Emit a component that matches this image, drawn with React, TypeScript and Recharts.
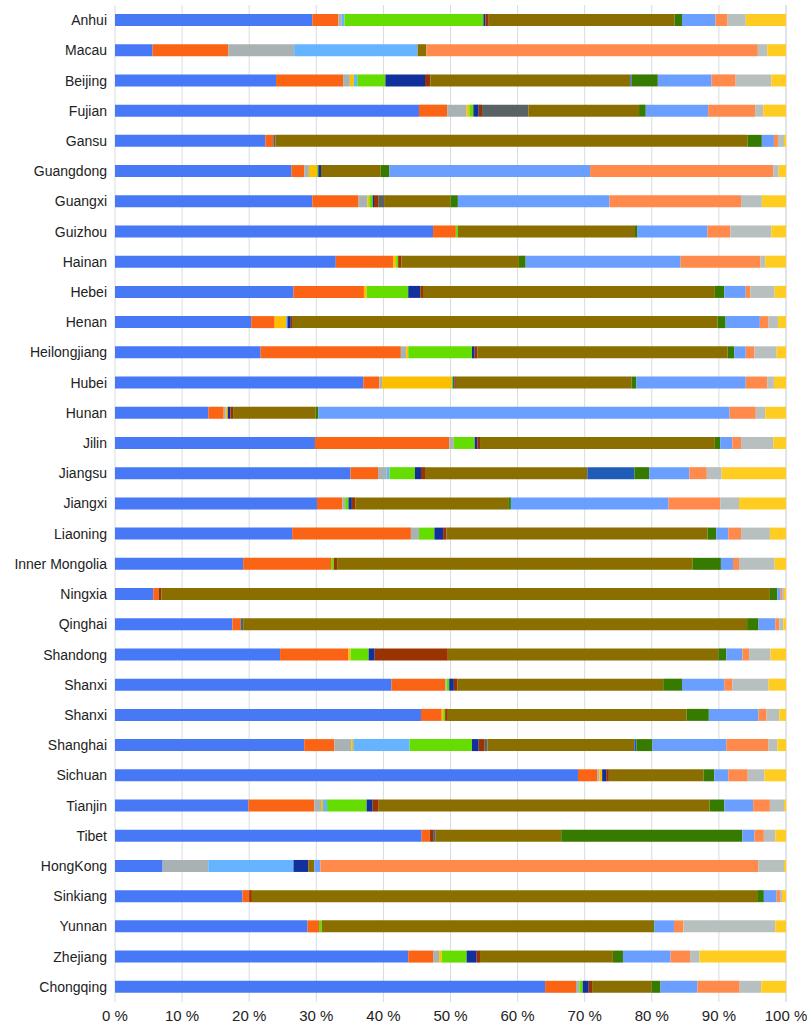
import { Bar, BarChart, CartesianGrid, XAxis, YAxis } from 'recharts';

const provinces = [
  'Anhui', 'Macau', 'Beijing', 'Fujian', 'Gansu', 'Guangdong', 'Guangxi', 'Guizhou', 'Hainan', 'Hebei',
  'Henan', 'Heilongjiang', 'Hubei', 'Hunan', 'Jilin', 'Jiangsu', 'Jiangxi', 'Liaoning', 'Inner Mongolia', 'Ningxia',
  'Qinghai', 'Shandong', 'Shanxi', 'Shanxi', 'Shanghai', 'Sichuan', 'Tianjin', 'Tibet', 'HongKong', 'Sinkiang',
  'Yunnan', 'Zhejiang', 'Chongqing',
];

// share (%) of each segment, one value per province, in the order above
const blue = [29.4, 5.6, 24.0, 45.3, 22.4, 26.3, 29.4, 47.4, 32.9, 26.6, 20.3, 21.7, 37.0, 13.9, 29.8, 35.1, 30.1, 26.4, 19.1, 5.7, 17.5, 24.6, 41.2, 45.6, 28.2, 69.0, 19.9, 45.7, 7.1, 19.0, 28.7, 43.7, 64.1];
const orange = [3.9, 11.3, 10.0, 4.2, 1.2, 1.9, 6.9, 3.4, 8.6, 10.5, 3.5, 20.9, 2.4, 2.3, 20.0, 4.1, 3.8, 17.7, 13.1, 0.8, 1.2, 10.2, 8.0, 3.1, 4.5, 2.9, 9.8, 1.2, 0, 1.0, 1.7, 3.7, 4.6];
const gray = [0.5, 9.8, 1.0, 2.9, 0, 0.7, 1.3, 0, 0, 0, 0, 0.8, 0.4, 0.3, 0.7, 1.3, 0.4, 1.2, 0, 0, 0, 0, 0.2, 0, 2.5, 0.3, 1.0, 0, 6.8, 0, 0, 0.9, 0.5];
const amber = [0, 0, 0.6, 0.4, 0, 1.2, 0.3, 0, 0.4, 0.4, 1.7, 0.3, 10.4, 0.3, 0, 0, 0, 0, 0, 0, 0, 0.3, 0, 0.2, 0.3, 0.4, 0.3, 0, 0, 0, 0, 0.4, 0];
const sky = [0.4, 18.4, 0.5, 0, 0, 0, 0, 0, 0, 0, 0.2, 0, 0, 0, 0, 0.4, 0, 0, 0, 0, 0, 0, 0, 0, 8.4, 0, 0.6, 0, 12.7, 0, 0, 0, 0];
const green = [20.7, 0, 4.2, 0.6, 0, 0.2, 0.5, 0.3, 0.3, 6.2, 0, 9.5, 0.2, 0, 3.1, 3.8, 0.5, 2.3, 0.4, 0, 0, 2.7, 0.4, 0.3, 9.3, 0, 5.9, 0, 0, 0, 0.4, 3.7, 0.5];
const navy = [0.3, 0, 5.9, 0.8, 0, 0.4, 0.2, 0, 0, 1.8, 0.5, 0.4, 0.2, 0.4, 0.4, 0.9, 0.5, 1.3, 0, 0, 0, 0.9, 0.7, 0, 1.0, 0.6, 0.9, 0, 2.2, 0, 0, 1.5, 0.9];
const darkRed = [0.5, 0, 0.8, 0.5, 0, 0, 0.7, 0, 0.5, 0.4, 0.3, 0.4, 0.2, 0.4, 0.4, 0.6, 0.5, 0.5, 0.5, 0.4, 0, 10.9, 0.5, 0.4, 0.9, 0.4, 0.9, 0.5, 0, 0.4, 0, 0.5, 0.5];
const slate = [0, 0, 0, 6.9, 0.3, 0, 0.8, 0, 0, 0, 0, 0, 0, 0, 0, 0, 0, 0, 0, 0, 0.4, 0, 0, 0, 0.4, 0, 0, 0.4, 0, 0, 0, 0, 0];
const olive = [27.7, 1.3, 29.8, 16.5, 70.4, 8.9, 9.9, 26.4, 17.5, 43.5, 63.3, 37.3, 26.2, 12.3, 35.0, 24.2, 22.8, 38.9, 53.0, 90.7, 75.1, 40.3, 30.7, 35.6, 21.9, 14.1, 49.3, 18.7, 0.9, 75.3, 49.4, 19.8, 8.9];
const darkBlue = [0, 0, 0.2, 0, 0, 0, 0, 0, 0, 0, 0, 0, 0, 0, 0, 7.0, 0, 0, 0, 0, 0, 0, 0, 0, 0.3, 0, 0, 0, 0, 0, 0, 0, 0];
const darkGreen = [1.1, 0, 3.9, 1.0, 2.1, 1.3, 1.1, 0.3, 1.0, 1.4, 1.2, 1.0, 0.7, 0.4, 0.8, 2.2, 0.4, 1.3, 4.2, 1.1, 1.7, 1.2, 2.8, 3.3, 2.4, 1.6, 2.2, 27.0, 0, 1.0, 0.2, 1.5, 1.3];
const cornflower = [5.0, 0, 8.0, 9.3, 1.8, 29.9, 22.6, 10.5, 23.1, 3.2, 5.1, 1.7, 16.3, 61.3, 1.8, 6.0, 23.5, 1.8, 1.8, 0.5, 2.5, 2.4, 6.3, 7.4, 11.0, 2.1, 4.3, 1.8, 0.9, 1.9, 2.9, 7.1, 5.5];
const salmon = [1.8, 49.4, 3.6, 7.0, 0.6, 27.3, 19.6, 3.4, 11.9, 0.7, 1.3, 1.3, 3.2, 3.9, 1.3, 2.6, 7.7, 1.9, 0.9, 0.3, 0.6, 1.0, 1.2, 1.2, 6.3, 2.9, 2.5, 1.4, 65.3, 0.5, 1.4, 2.9, 6.3];
const lightGray = [2.7, 1.4, 5.3, 1.2, 0.9, 0.8, 3.1, 6.1, 0.7, 3.6, 1.4, 3.3, 1.0, 1.4, 4.8, 2.2, 2.8, 4.3, 5.3, 0.2, 0.6, 3.2, 5.4, 1.9, 1.3, 2.5, 2.1, 1.7, 3.8, 0.3, 13.7, 1.4, 3.2];
const yellow = [6.0, 2.8, 2.2, 3.4, 0.3, 1.1, 3.6, 2.2, 3.1, 1.7, 1.2, 1.4, 1.8, 3.1, 1.9, 9.6, 7.0, 2.4, 1.7, 0.3, 0.4, 2.3, 2.6, 1.0, 1.3, 3.2, 0.3, 1.6, 0.3, 0.6, 1.6, 12.9, 3.7];

const percentTicks = [0, 10, 20, 30, 40, 50, 60, 70, 80, 90, 100];

const series = [
  { key: 'blue', values: blue, color: '#4778f5' },
  { key: 'orange', values: orange, color: '#fa6414' },
  { key: 'gray', values: gray, color: '#a8b2b2' },
  { key: 'amber', values: amber, color: '#fbbf00' },
  { key: 'sky', values: sky, color: '#66b3ff' },
  { key: 'green', values: green, color: '#66dd00' },
  { key: 'navy', values: navy, color: '#12309c' },
  { key: 'darkRed', values: darkRed, color: '#993300' },
  { key: 'slate', values: slate, color: '#5b6266' },
  { key: 'olive', values: olive, color: '#8b6e00' },
  { key: 'darkBlue', values: darkBlue, color: '#1f5cb8' },
  { key: 'darkGreen', values: darkGreen, color: '#367a00' },
  { key: 'cornflower', values: cornflower, color: '#6a9fff' },
  { key: 'salmon', values: salmon, color: '#ff8a4c' },
  { key: 'lightGray', values: lightGray, color: '#b7bfbf' },
  { key: 'yellow', values: yellow, color: '#ffcc22' },
];

const data = provinces.map((name, i) => {
  const row: Record<string, number | string> = { id: String(i), name };
  series.forEach((s) => {
    row[s.key] = s.values[i];
  });
  return row;
});

export default function App() {
  return (
    <div style={{ position: 'absolute', left: 0, top: 0, background: '#fff' }}>
      <BarChart
        width={807}
        height={1029}
        data={data}
        layout="vertical"
        barCategoryGap={0}
        barSize={12}
        margin={{ top: 5, right: 21, bottom: 2, left: 0 }}
      >
        <CartesianGrid horizontal={false} stroke="#d8dcdf" />
        <XAxis
          type="number"
          domain={[0, 100]}
          ticks={percentTicks}
          tickFormatter={(v: number) => `${v} %`}
          axisLine={false}
          tickLine={false}
          height={25}
          tick={{ fill: '#222', fontSize: 15, fontFamily: 'Liberation Sans Narrow, Liberation Sans, Arial, sans-serif' }}
        />
        <YAxis
          type="category"
          dataKey="id"
          width={115}
          axisLine={false}
          tickLine={false}
          interval={0}
          tickFormatter={(v: string) => provinces[Number(v)]}
          tick={{ fill: '#222', fontSize: 14, fontFamily: 'Liberation Sans, Arial, sans-serif' }}
        />
        {series.map((s) => (
          <Bar key={s.key} dataKey={s.key} stackId="a" fill={s.color} isAnimationActive={false} />
        ))}
      </BarChart>
    </div>
  );
}
